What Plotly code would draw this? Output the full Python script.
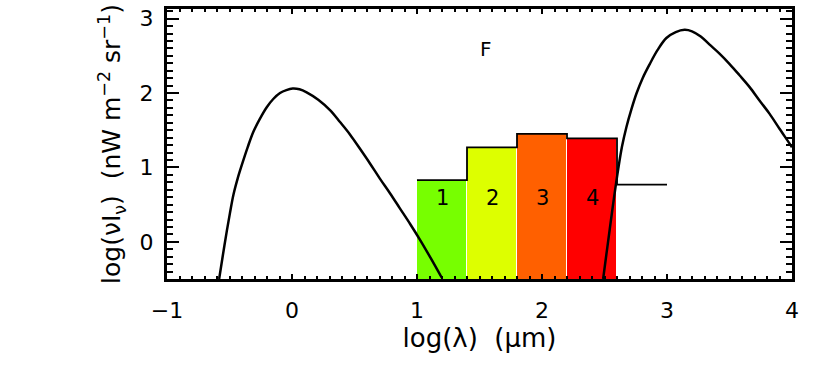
import plotly.graph_objects as go

# left (stellar) curve
star_x = [-0.583, -0.555, -0.522, -0.495, -0.469, -0.435, -0.402, -0.355, -0.309, -0.255,
          -0.202, -0.150, -0.096, -0.045, 0.005, 0.060, 0.117, 0.210, 0.304, 0.384,
          0.465, 0.544, 0.625, 0.703, 0.785, 0.863, 0.945, 1.023, 1.110, 1.197]
star_y = [-0.5, -0.2, 0.14, 0.40, 0.63, 0.85, 1.03, 1.27, 1.48, 1.66,
          1.81, 1.92, 2.00, 2.04, 2.06, 2.05, 2.01, 1.91, 1.77, 1.61,
          1.44, 1.25, 1.05, 0.85, 0.65, 0.45, 0.24, 0.03, -0.22, -0.48]

# right (dust) curve
dust_x = [2.489, 2.515, 2.542, 2.575, 2.609, 2.640, 2.675, 2.715, 2.755, 2.805,
          2.862, 2.925, 2.995, 3.070, 3.141, 3.200, 3.270, 3.341, 3.420, 3.501,
          3.580, 3.661, 3.740, 3.821, 3.900, 3.981, 4.0]
dust_y = [-0.5, -0.17, 0.17, 0.58, 0.97, 1.28, 1.54, 1.78, 1.99, 2.20,
          2.39, 2.58, 2.74, 2.82, 2.85, 2.83, 2.76, 2.65, 2.53, 2.39,
          2.24, 2.08, 1.90, 1.72, 1.52, 1.32, 1.27]

# bands
band_labels = ["1", "2", "3", "4"]
band_center = [1.2, 1.6, 2.0, 2.4]
band_top = [0.83, 1.27, 1.45, 1.39]
band_colors = ["#77ff00", "#ddff00", "#ff6000", "#ff0000"]

step_x = [1.0, 1.4, 1.8, 2.2, 2.6, 3.0]
step_y = [0.83, 1.27, 1.45, 1.39, 0.77, 0.77]

ymin = -0.5
FONT = "DejaVu Sans"

fig = go.Figure()

fig.add_trace(go.Bar(x=band_center, y=[t - (ymin - 0.5) for t in band_top], base=ymin - 0.5,
                     width=0.4, marker=dict(color=band_colors, line=dict(color="white", width=1))))

fig.add_trace(go.Scatter(x=step_x, y=step_y, mode="lines", line_shape="hv",
                         line=dict(color="black", width=1.8)))

fig.add_trace(go.Scatter(x=star_x, y=star_y, mode="lines",
                         line=dict(color="black", width=2.5, shape="spline", smoothing=1)))
fig.add_trace(go.Scatter(x=dust_x, y=dust_y, mode="lines",
                         line=dict(color="black", width=2.5, shape="spline", smoothing=1)))

for lab, cx in zip(band_labels, band_center):
    fig.add_annotation(x=cx, y=0.59, text=lab, showarrow=False,
                       font=dict(family=FONT, size=21, color="black"))

fig.add_annotation(x=1.55, y=2.59, text="F", showarrow=False,
                   font=dict(family=FONT, size=20, color="black"))

axis_common = dict(showline=True, linecolor="black", linewidth=3, mirror="allticks",
                   showgrid=False, zeroline=False, ticks="inside", tickcolor="black",
                   tickwidth=2, tickfont=dict(family=FONT, size=22, color="black"))

fig.update_xaxes(range=[-1, 4], dtick=1, ticklen=5, ticklabelstandoff=10,
                 minor=dict(dtick=0.1, ticklen=3, ticks="inside", tickcolor="black", tickwidth=2),
                 title=dict(text="log(λ)  (μm)", font=dict(family=FONT, size=26, color="black"),
                            standoff=0),
                 **axis_common)
fig.update_yaxes(range=[ymin, 3.13], dtick=1, ticklen=12, ticklabelstandoff=6,
                 minor=dict(dtick=0.1, ticklen=6, ticks="inside", tickcolor="black", tickwidth=2),
                 title=dict(text="log(νI<sub>ν</sub>)  (nW m<sup>−2</sup> sr<sup>−1</sup>)",
                            font=dict(family=FONT, size=25, color="black"), standoff=12),
                 **axis_common)

fig.update_layout(width=830, height=367, margin=dict(l=167, r=38, t=6, b=88),
                  plot_bgcolor="white", paper_bgcolor="white", showlegend=False, bargap=0)

fig.write_html("out.html", config={"displayModeBar": False},
               post_script="document.body.style.margin='0px';")
